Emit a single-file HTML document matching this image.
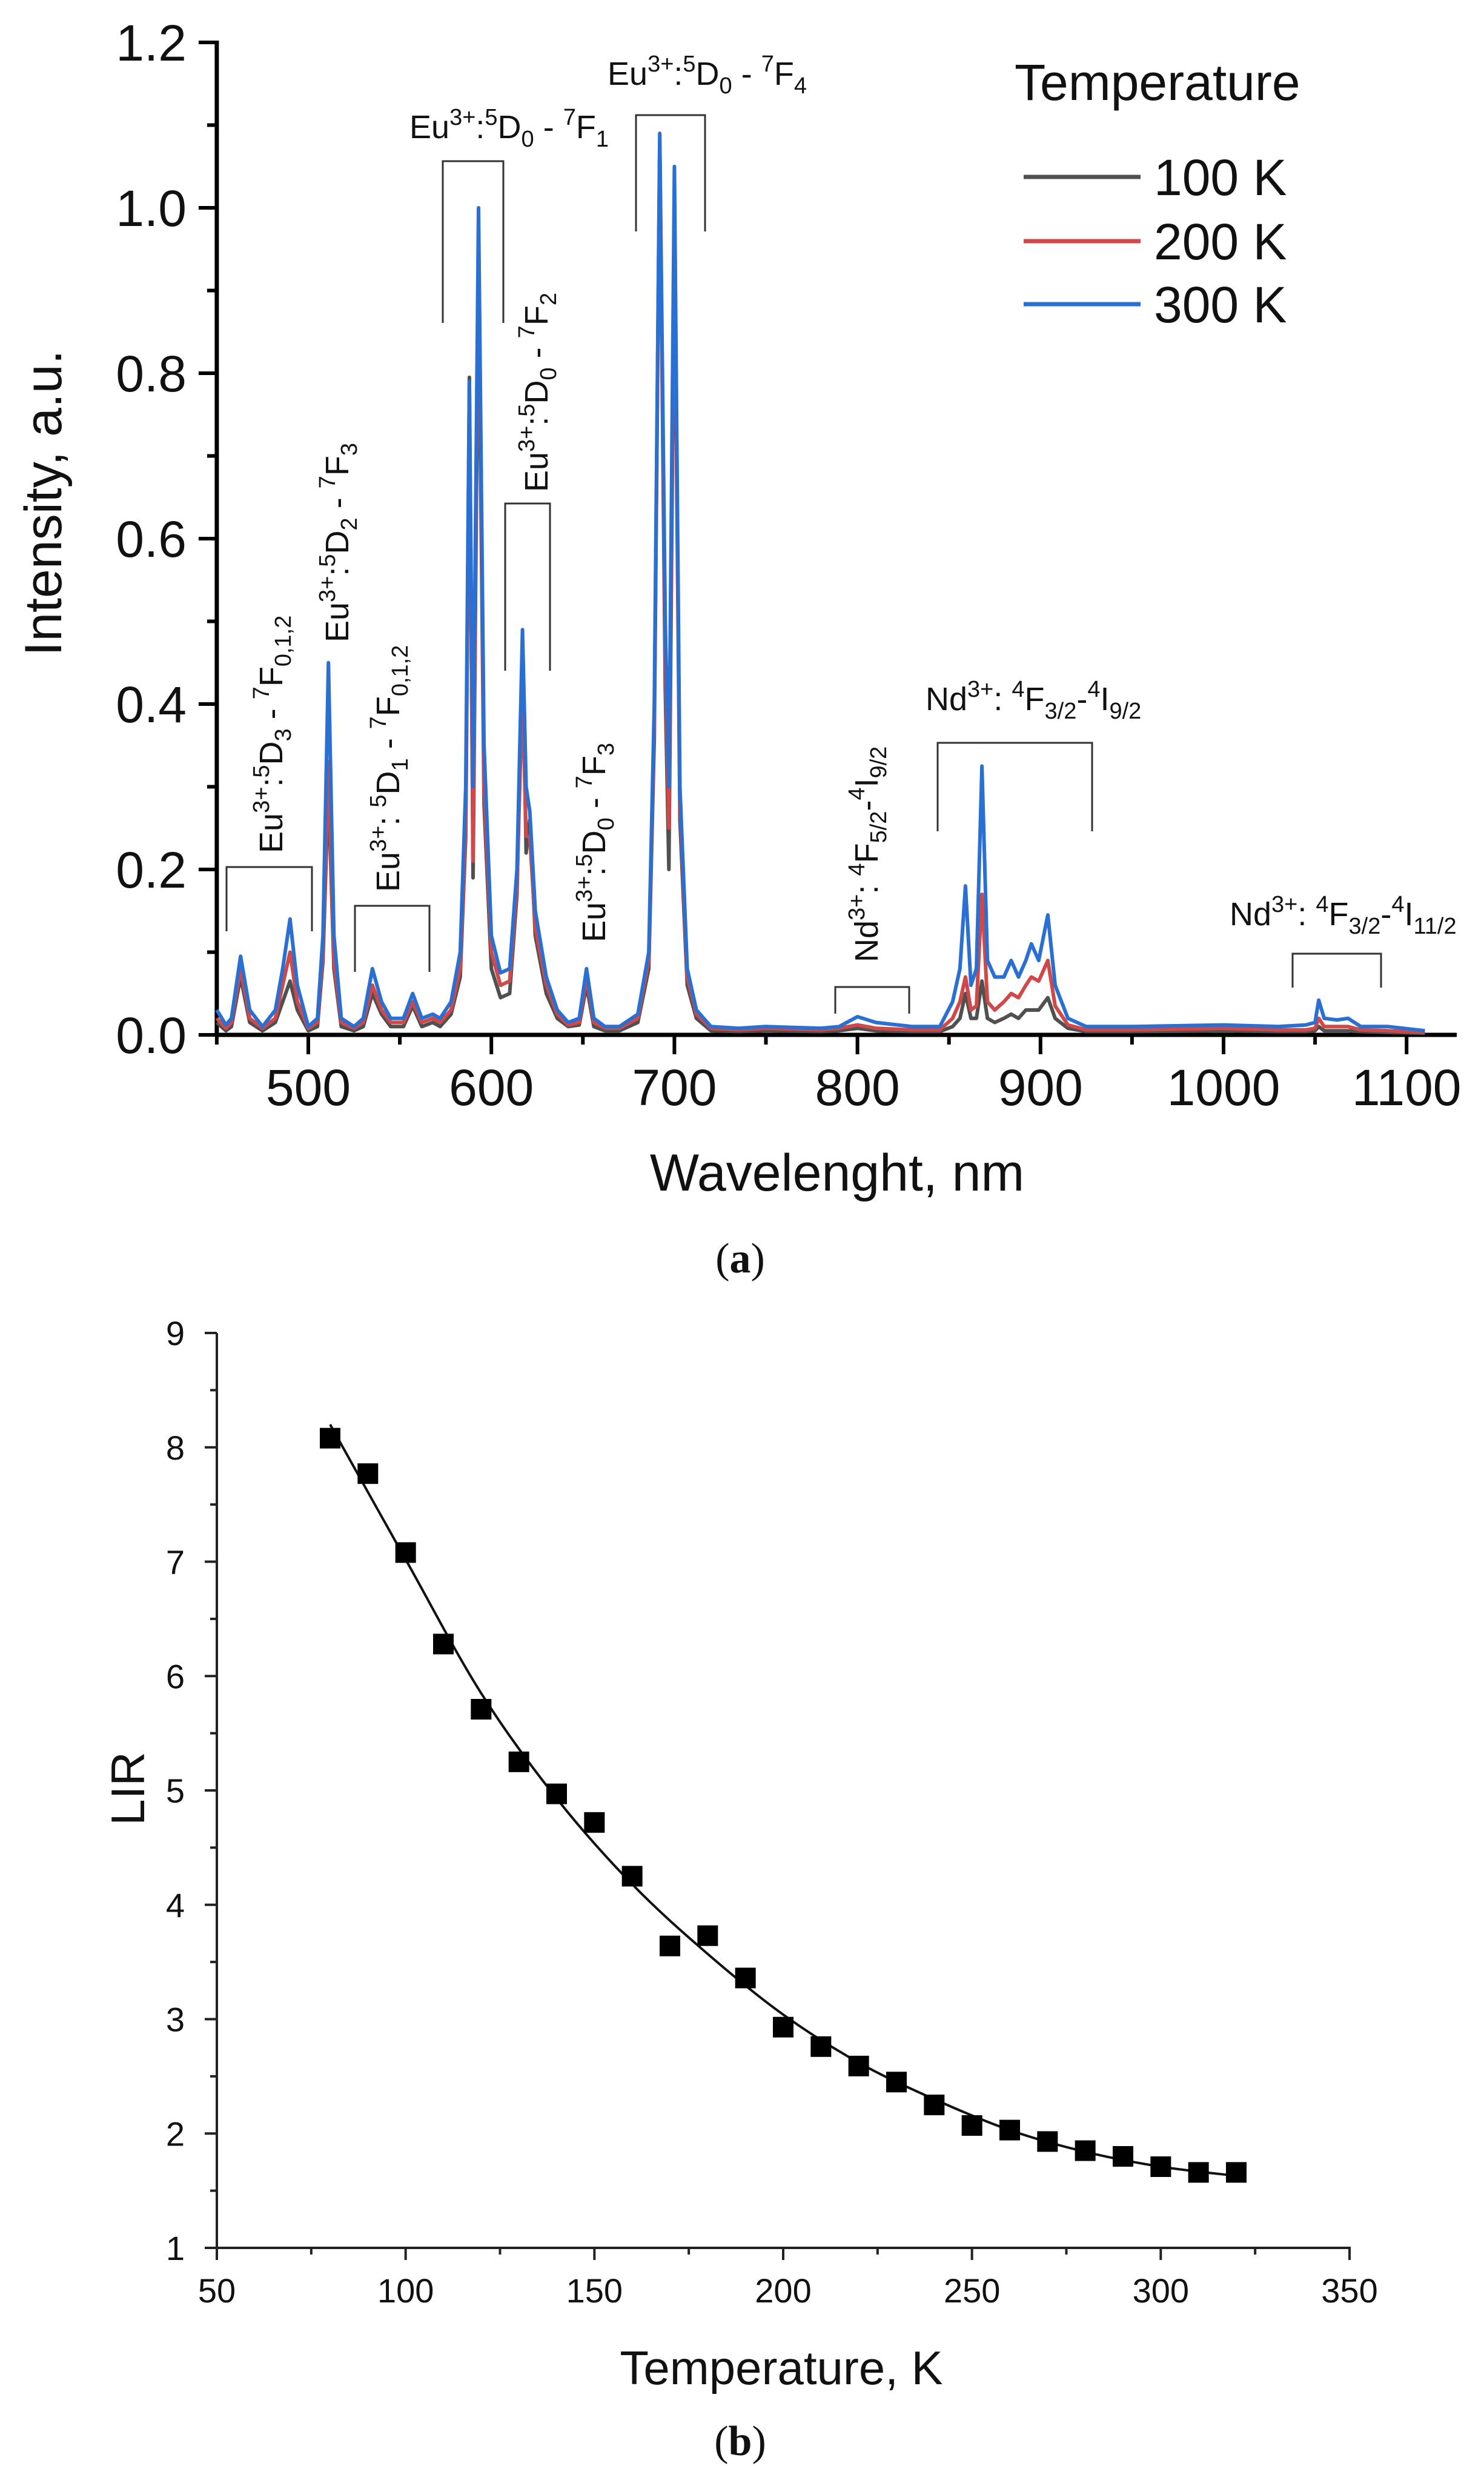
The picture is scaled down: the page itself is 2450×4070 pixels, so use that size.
<!DOCTYPE html>
<html><head><meta charset="utf-8"><style>
html,body{margin:0;padding:0;background:#fff;}
svg{display:block;}
text{font-family:"Liberation Sans",Arial,sans-serif;fill:#111;}
</style></head><body>
<svg id="fig" width="2450" height="4070" viewBox="0 0 2450 4070" xmlns="http://www.w3.org/2000/svg">
<g id="chartA"></g>
<g id="chartB"></g>
</svg>
<script>
// ---------- Chart (a) data ----------
const wavelengths=[450,455,458,463,468,475,482,486,490,494,500,505,508,511,514,518,525,530,535,540,545,552,557,562,568,572,578,583,586,588,590,593,596,600,605,610,614,617,619,621,624,630,636,642,648,652,656,662,670,680,686,689,692,695,697,700,703,707,712,720,735,750,780,790,800,810,830,845,852,856,859,862,865,868,871,875,880,884,888,892,895,899,904,908,915,925,950,1000,1030,1045,1050,1052,1055,1062,1068,1075,1090,1110];
const int100K=[.015,.005,.01,.07,.015,.005,.015,.04,.065,.03,.005,.01,.09,.3,.08,.01,.005,.01,.05,.025,.01,.01,.035,.01,.015,.01,.025,.07,.24,.795,.19,.93,.28,.08,.045,.05,.17,.47,.22,.26,.12,.05,.02,.01,.012,.06,.01,.005,.005,.015,.08,.36,1.08,.42,.2,.97,.26,.06,.02,.005,.004,.005,.004,.005,.008,.005,.004,.004,.01,.02,.05,.02,.02,.065,.02,.015,.02,.025,.02,.03,.03,.03,.045,.02,.008,.004,.004,.005,.004,.004,.005,.01,.005,.005,.005,.004,.003,.002];
const int200K=[.02,.008,.015,.08,.02,.008,.02,.06,.1,.04,.008,.015,.1,.33,.09,.015,.008,.015,.06,.03,.015,.015,.04,.015,.02,.015,.03,.08,.25,.76,.21,.98,.3,.1,.06,.065,.18,.42,.24,.24,.13,.06,.025,.012,.015,.07,.015,.008,.008,.02,.09,.38,1.08,.45,.25,1.0,.28,.07,.025,.008,.006,.008,.006,.008,.012,.008,.006,.006,.02,.04,.07,.03,.035,.17,.04,.03,.04,.05,.045,.06,.07,.065,.09,.035,.012,.006,.006,.008,.006,.006,.008,.02,.01,.01,.01,.006,.005,.003];
const int300K=[.03,.012,.02,.095,.03,.01,.03,.08,.14,.06,.01,.02,.12,.45,.12,.02,.01,.02,.08,.04,.02,.02,.05,.02,.025,.02,.04,.1,.3,.79,.3,1.0,.35,.12,.075,.08,.2,.49,.3,.27,.15,.07,.03,.015,.02,.08,.02,.01,.01,.025,.1,.4,1.09,.5,.3,1.05,.3,.08,.03,.01,.008,.01,.008,.01,.022,.015,.01,.01,.04,.08,.18,.06,.08,.325,.09,.07,.07,.09,.07,.09,.11,.09,.145,.06,.02,.01,.01,.012,.01,.012,.015,.042,.02,.018,.02,.01,.01,.005];
const xTicksA=[500,600,700,800,900,1000,1100];
const yTicksA=[0,0.2,0.4,0.6,0.8,1.0,1.2];
const seriesNames=["100 K","200 K","300 K"];
// ---------- Chart (b) data ----------
const temps=[80,90,100,110,120,130,140,150,160,170,180,190,200,210,220,230,240,250,260,270,280,290,300,310,320];
const lirValues=[8.08,7.77,7.08,6.28,5.71,5.25,4.97,4.72,4.25,3.64,3.73,3.36,2.93,2.76,2.59,2.45,2.25,2.07,2.03,1.93,1.85,1.80,1.71,1.66,1.66];
const fitTemps=[80,100,120,140,160,180,200,220,240,260,280,300,320];
const fitValues=[8.2,7.02,5.85,4.93,4.18,3.57,3.04,2.62,2.3,2.03,1.84,1.71,1.63];
const xTicksB=[50,100,150,200,250,300,350];
const yTicksB=[1,2,3,4,5,6,7,8,9];

const NS="http://www.w3.org/2000/svg";
function mk(tag,attrs,parent){const e=document.createElementNS(NS,tag);for(const k in attrs)e.setAttribute(k,attrs[k]);parent.appendChild(e);return e;}

// ===== Chart A =====
const A=document.getElementById('chartA');
const xA=nm=>509+(nm-500)*3.022;
const yA=v=>1708-v*(1638/1.2);
const axA=mk('g',{},A);


mk('line',{x1:xA(450),y1:yA(0),x2:2405,y2:yA(0),stroke:'#000','stroke-width':7},axA);
mk('line',{x1:xA(450),y1:yA(0)+3,x2:xA(450),y2:yA(1.2)-3,stroke:'#000','stroke-width':7},axA);
for(let nm=450;nm<=1100;nm+=50){
  const major=nm%100===0;
  mk('line',{x1:xA(nm),y1:yA(0),x2:xA(nm),y2:yA(0)+(major?32:16),stroke:'#000','stroke-width':6},axA);
}
xTicksA.forEach(t=>{const e=mk('text',{x:xA(t),y:1824,'font-size':84,'text-anchor':'middle'},axA);e.textContent=t;
 
 });
for(let v=0;v<=1.2001;v+=0.1){
  const major=Math.round(v*10)%2===0;
  mk('line',{x1:xA(450),y1:yA(v),x2:xA(450)-(major?30:16),y2:yA(v),stroke:'#000','stroke-width':6},axA);
}
yTicksA.forEach(t=>{const e=mk('text',{x:308,y:yA(t)+30,'font-size':84,'text-anchor':'end'},axA);e.textContent=t.toFixed(1);
 
 });
let t=mk('text',{x:1382,y:1965,'font-size':86,'text-anchor':'middle'},A);t.textContent='Wavelenght, nm';


t=mk('text',{x:0,y:0,'font-size':86,'text-anchor':'middle',transform:'translate(101,830) rotate(-90)'},A);t.textContent='Intensity, a.u.';



const colors=['#505050','#d04848','#2a6fd2'];
[int100K,int200K,int300K].forEach((s,i)=>{
  const d=s.map((v,k)=>(k?'L':'M')+xA(wavelengths[k]).toFixed(1)+','+yA(v).toFixed(1)).join('');
  const p=mk('path',{d,fill:'none',stroke:colors[i],'stroke-width':6,'stroke-linejoin':'round'},A);
  
  
});
// legend
const lg=mk('g',{},A);


t=mk('text',{x:1675,y:165,'font-size':84},lg);t.textContent='Temperature';
const legY=[292,398,502];
seriesNames.forEach((n,i)=>{
  mk('line',{x1:1690,y1:legY[i],x2:1883,y2:legY[i],stroke:colors[i],'stroke-width':7},lg);
  const e=mk('text',{x:1905,y:legY[i]+30,'font-size':84},lg);e.textContent=n;
  
  
});
// annotations
function label(parts,x,y,rot,name){
  const attrs={x:rot?0:x,y:rot?0:y,'font-size':54};
  if(rot)attrs.transform=`translate(${x},${y}) rotate(-90)`;
  const e=mk('text',attrs,A);
  
  
  parts.forEach(p=>{const s=mk('tspan',{},e);s.textContent=p[0];
    if(p[1]==='sup'){s.setAttribute('font-size',38);s.setAttribute('dy',-22);}
    else if(p[1]==='sub'){s.setAttribute('font-size',38);s.setAttribute('dy',14);}
    if(p[2])s.setAttribute('dy',p[2]);});
  return e;
}
function bracket(x1,x2,yt,yb,name){const p=mk('path',{d:`M${x1},${yb}V${yt}H${x2}V${yb}`,fill:'none',stroke:'#333','stroke-width':3},A);
  }
label([['Eu'],['3+','sup'],[':','',22],['5','sup',-22],['D','',22],['0','sub'],[' - ','',-14],['7','sup'],['F','',22],['4','sub']],1003,140,false,'annotation-7f4');
bracket(1050,1164,190,382,'bracket-7f4');
label([['Eu'],['3+','sup'],[':','',22],['5','sup',-22],['D','',22],['0','sub'],[' - ','',-14],['7','sup'],['F','',22],['1','sub']],676,228,false,'annotation-7f1');
bracket(731,831,266,533,'bracket-7f1');
label([['Eu'],['3+','sup'],[':','',22],['5','sup',-22],['D','',22],['0','sub'],[' - ','',-14],['7','sup'],['F','',22],['2','sub']],904,812,true,'annotation-7f2');
bracket(834,908,831,1107,'bracket-7f2');
label([['Eu'],['3+','sup'],[':','',22],['5','sup',-22],['D','',22],['2','sub'],[' - ','',-14],['7','sup'],['F','',22],['3','sub']],575,1060,true,'annotation-5d2');
label([['Eu'],['3+','sup'],[':','',22],['5','sup',-22],['D','',22],['3','sub'],[' - ','',-14],['7','sup'],['F','',22],['0,1,2','sub']],466,1408,true,'annotation-5d3');
bracket(374,515,1431,1537,'bracket-5d3');
label([['Eu'],['3+','sup'],[': ','',22],['5','sup',-22],['D','',22],['1','sub'],[' - ','',-14],['7','sup'],['F','',22],['0,1,2','sub']],659,1472,true,'annotation-5d1');
bracket(586,709,1495,1604,'bracket-5d1');
label([['Eu'],['3+','sup'],[':','',22],['5','sup',-22],['D','',22],['0','sub'],[' - ','',-14],['7','sup'],['F','',22],['3','sub']],999,1555,true,'annotation-7f3');
label([['Nd'],['3+','sup'],[': ','',22],['4','sup',-22],['F','',22],['5/2','sub'],['-','',-14],['4','sup'],['I','',22],['9/2','sub']],1449,1588,true,'annotation-nd-5-2');
bracket(1379,1501,1629,1673,'bracket-nd-5-2');
label([['Nd'],['3+','sup'],[': ','',22],['4','sup',-22],['F','',22],['3/2','sub'],['-','',-14],['4','sup'],['I','',22],['9/2','sub']],1528,1172,false,'annotation-nd-9-2');
bracket(1548,1803,1226,1372,'bracket-nd-9-2');
label([['Nd'],['3+','sup'],[': ','',22],['4','sup',-22],['F','',22],['3/2','sub'],['-','',-14],['4','sup'],['I','',22],['11/2','sub']],2030,1527,false,'annotation-nd-11-2');
bracket(2134,2280,1574,1630,'bracket-nd-11-2');
t=mk('text',{x:1222,y:2100,'font-size':70,'text-anchor':'middle',style:'font-family:"Liberation Serif",serif'},document.getElementById('fig'));
t.innerHTML='(<tspan font-weight="bold">a</tspan>)';



// ===== Chart B =====
const B=document.getElementById('chartB');
const xB=T=>358+(T-50)*(1870/300);
const yB=v=>3710-(v-1)*(1510/8);
const axB=mk('g',{},B);


mk('line',{x1:xB(50),y1:yB(1),x2:xB(350)+2,y2:yB(1),stroke:'#222','stroke-width':4},axB);
mk('line',{x1:xB(50),y1:yB(1)+2,x2:xB(50),y2:yB(9),stroke:'#222','stroke-width':4},axB);
for(let T=50;T<=350;T+=25){const major=T%50===0;
  mk('line',{x1:xB(T),y1:yB(1),x2:xB(T),y2:yB(1)+(major?20:11),stroke:'#222','stroke-width':4},axB);}
xTicksB.forEach(v=>{const e=mk('text',{x:xB(v),y:3800,'font-size':56,'text-anchor':'middle',fill:'#222'},axB);e.textContent=v;
 
 });
for(let v=1;v<=9.001;v+=0.5){const major=Math.abs(v-Math.round(v))<0.01;
  mk('line',{x1:xB(50),y1:yB(v),x2:xB(50)-(major?20:11),y2:yB(v),stroke:'#222','stroke-width':4},axB);}
yTicksB.forEach(v=>{const e=mk('text',{x:305,y:yB(v)+20,'font-size':56,'text-anchor':'end'},axB);e.textContent=v;
 
 });
t=mk('text',{x:1290,y:3935,'font-size':78,'text-anchor':'middle'},B);t.textContent='Temperature, K';


t=mk('text',{x:0,y:0,'font-size':78,'text-anchor':'middle',transform:'translate(238,2952) rotate(-90)'},B);t.textContent='LIR';


// fit curve (Catmull-Rom)
const fp=fitTemps.map((T,i)=>[xB(T),yB(fitValues[i])]);
let d='M'+fp[0][0]+','+fp[0][1];
for(let i=0;i<fp.length-1;i++){const p0=fp[i-1]||fp[i],p1=fp[i],p2=fp[i+1],p3=fp[i+2]||p2;
  d+=`C${p1[0]+(p2[0]-p0[0])/6},${p1[1]+(p2[1]-p0[1])/6} ${p2[0]-(p3[0]-p1[0])/6},${p2[1]-(p3[1]-p1[1])/6} ${p2[0]},${p2[1]}`;}
const fit=mk('path',{d,fill:'none',stroke:'#111','stroke-width':4},B);


temps.forEach((T,i)=>{const r=mk('rect',{x:xB(T)-17,y:yB(lirValues[i])-17,width:34,height:34,fill:'#000'},B);
  
  });
t=mk('text',{x:1222,y:4052,'font-size':70,'text-anchor':'middle',style:'font-family:"Liberation Serif",serif'},document.getElementById('fig'));
t.innerHTML='(<tspan font-weight="bold">b</tspan>)';


</script>
</body></html>
